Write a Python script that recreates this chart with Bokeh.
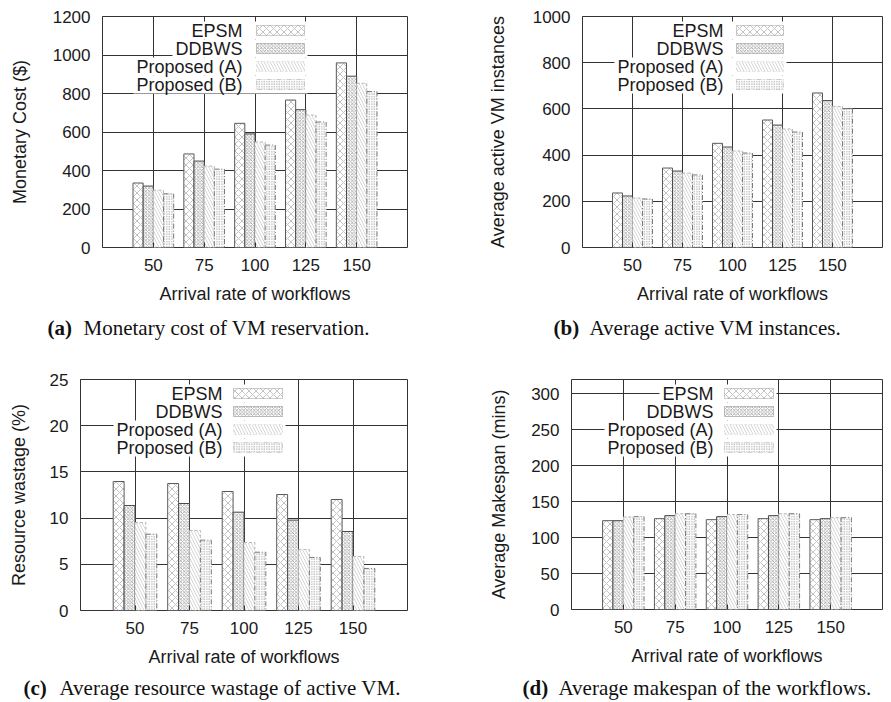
import numpy as np
from bokeh.plotting import figure
from bokeh.models import Range1d, FixedTicker, Label, BoxAnnotation, Grid
from bokeh.layouts import row, column
from bokeh.embed import file_html
from bokeh.resources import INLINE

rates = ["50", "75", "100", "125", "150"]
series = ["EPSM", "DDBWS", "Proposed (A)", "Proposed (B)"]

cost_epsm = [335, 486, 645, 766, 959]
cost_ddbws = [319, 449, 590, 716, 890]
cost_prop_a = [298, 423, 548, 688, 853]
cost_prop_b = [279, 407, 532, 652, 810]

vm_epsm = [236, 344, 451, 552, 669]
vm_ddbws = [223, 331, 435, 530, 636]
vm_prop_a = [214, 322, 418, 513, 611]
vm_prop_b = [210, 314, 409, 500, 601]

waste_epsm = [13.96, 13.74, 12.88, 12.55, 12.01]
waste_ddbws = [11.36, 11.58, 10.64, 9.78, 8.55]
waste_prop_a = [9.52, 8.66, 7.36, 6.60, 5.84]
waste_prop_b = [8.26, 7.61, 6.31, 5.74, 4.55]

mk_epsm = [123.6, 126.4, 125.0, 126.4, 125.0]
mk_ddbws = [123.6, 130.6, 129.2, 130.6, 126.4]
mk_prop_a = [128.7, 133.3, 132.0, 133.3, 127.8]
mk_prop_b = [129.2, 133.3, 132.0, 133.3, 127.8]

cost_ticks = [0, 200, 400, 600, 800, 1000, 1200]
vm_ticks = [0, 200, 400, 600, 800, 1000]
waste_ticks = [0, 5, 10, 15, 20, 25]
mk_ticks = [0, 50, 100, 150, 200, 250, 300]

captions = [
    ("(a)", "Monetary cost of VM reservation."),
    ("(b)", "Average active VM instances."),
    ("(c)", "Average resource wastage of active VM."),
    ("(d)", "Average makespan of the workflows."),
]

SANS = "Liberation Sans"
SERIF = "Liberation Serif"
TXT = "#1a1a1a"
TICK = "#333333"

STYLES = [
    dict(fill_color="white", line_color="#5a5a5a", line_width=1,
         hatch_pattern="diagonal_cross", hatch_color="#9a9a9a", hatch_scale=7, hatch_weight=0.6),
    dict(fill_color="white", line_color="#4a4a4a", line_width=1,
         hatch_pattern="diagonal_cross", hatch_color="#7a7a7a", hatch_scale=3.5, hatch_weight=0.6),
    dict(fill_color="white", line_color="#b8b8b8", line_width=1, line_dash="3 2",
         hatch_pattern="left_diagonal_line", hatch_color="#c4c4c4", hatch_scale=6, hatch_weight=0.7),
    dict(fill_color="white", line_color="#7a7a7a", line_width=1, line_dash="5 2 1 2",
         hatch_pattern="dot", hatch_color="#8c8c8c", hatch_scale=2.5, hatch_weight=0.8),
]
OFFSETS = [-0.3, -0.1, 0.1, 0.3]


def panel(values, ymax, yticks, ylabel, geom, fig, ylab_standoff, leg):
    L, T, W, H = geom
    fl, ft, fw, fh = fig
    bl = L - fl
    br = fw - bl - W
    bt = T - ft
    bb = fh - bt - H
    x0, x1, y0, y1 = 0, 6, 0, ymax

    def X(px):
        return x0 + (px - L) / W * (x1 - x0)

    def Y(py):
        return y1 - (py - T) / H * (y1 - y0)

    p = figure(x_range=Range1d(x0, x1), y_range=Range1d(y0, y1),
               frame_width=W, frame_height=H,
               min_border_left=bl, min_border_right=br,
               min_border_top=bt, min_border_bottom=bb,
               output_backend="svg", toolbar_location=None,
               background_fill_color="white", border_fill_color="white",
               outline_line_color=TICK, outline_line_width=1)

    # grid
    p.xgrid.visible = False
    p.ygrid.ticker = FixedTicker(ticks=yticks)
    p.ygrid.grid_line_color = "#c8c8c8"
    p.ygrid.grid_line_dash = "1 2"
    p.ygrid.grid_line_width = 1

    # axes
    p.xaxis.ticker = FixedTicker(ticks=[1, 2, 3, 4, 5])
    p.xaxis.major_label_overrides = {i + 1: r for i, r in enumerate(rates)}
    p.yaxis.ticker = FixedTicker(ticks=yticks)
    for ax in (p.xaxis[0], p.yaxis[0]):
        ax.axis_line_color = None
        ax.major_tick_in = 5
        ax.major_tick_out = 0
        ax.major_tick_line_color = TICK
        ax.minor_tick_line_color = None
        ax.major_label_text_font = SANS
        ax.major_label_text_font_size = "17px"
        ax.major_label_text_color = TXT
        ax.axis_label_text_font = SANS
        ax.axis_label_text_font_size = "18px"
        ax.axis_label_text_font_style = "normal"
        ax.axis_label_text_color = TXT
    p.xaxis.axis_label = "Arrival rate of workflows"
    p.xaxis.major_label_standoff = 11
    p.xaxis.axis_label_standoff = 10
    p.yaxis.axis_label = ylabel
    p.yaxis.major_label_standoff = 12
    p.yaxis.axis_label_standoff = ylab_standoff

    # mirrored tick marks on the right and top borders
    p.add_layout(Grid(dimension=1, ticker=FixedTicker(ticks=yticks), bounds=(X(L + W - 5), x1),
                      grid_line_color=TICK, grid_line_width=1), "center")
    p.add_layout(Grid(dimension=0, ticker=FixedTicker(ticks=[1, 2, 3, 4, 5]), bounds=(Y(T + 5), y1),
                      grid_line_color=TICK, grid_line_width=1), "center")

    # bars
    base = np.arange(1, 6)
    for vals, off, st in zip(values, OFFSETS, STYLES):
        p.vbar(x=base + off, top=vals, width=0.2, bottom=0, **st)

    # legend (text right-aligned, sample box on the right)
    text_right, sw_l, sw_r = leg
    rows_y = [T + 14, T + 32, T + 50, T + 68]
    widths = [51, 67, 106, 106]
    for yc, tw in zip(rows_y, widths):
        p.add_layout(BoxAnnotation(left=X(text_right - tw - 3), right=X(sw_r + 3),
                                   top=Y(yc - 9), bottom=Y(yc + 9),
                                   fill_color="white", fill_alpha=1, line_color=None,
                                   level="annotation"))
    for name, st, yc in zip(series, STYLES, rows_y):
        p.add_layout(Label(x=X(text_right), y=Y(yc), text=name, text_align="right",
                           text_baseline="middle", text_font=SANS, text_font_size="18px",
                           text_color=TXT))
        p.add_layout(BoxAnnotation(left=X(sw_l), right=X(sw_r), top=Y(yc - 5), bottom=Y(yc + 5),
                                   fill_alpha=1, **st))
    return p


def caption_fig(cap, width, height, xb, xr, mid_y):
    c = figure(x_range=Range1d(0, width), y_range=Range1d(height, 0),
               width=width, height=height, min_border=0,
               output_backend="svg", toolbar_location=None,
               outline_line_color=None, background_fill_color="white",
               border_fill_color="white")
    c.axis.visible = False
    c.grid.visible = False
    bold, rest = cap
    c.add_layout(Label(x=xb, y=mid_y, text=bold, text_align="left",
                       text_baseline="middle", text_font=SERIF, text_font_size="21px",
                       text_font_style="bold", text_color="#111111"))
    c.add_layout(Label(x=xr, y=mid_y, text=rest, text_align="left",
                       text_baseline="middle", text_font=SERIF, text_font_size="21px",
                       text_color="#111111"))
    return c


TOP_H = 313
BOT_Y = 345
BOT_END = 675
PAGE_END = 701

pa = panel([cost_epsm, cost_ddbws, cost_prop_a, cost_prop_b], 1200, cost_ticks,
           "Monetary Cost ($)", (102, 16, 305, 231), (0, 0, 445, TOP_H), 20,
           (242, 256, 304))
pb = panel([vm_epsm, vm_ddbws, vm_prop_a, vm_prop_b], 1000, vm_ticks,
           "Average active VM instances", (582, 16, 300, 231), (445, 0, 446, TOP_H), 22,
           (723, 736, 783))
pc = panel([waste_epsm, waste_ddbws, waste_prop_a, waste_prop_b], 25, waste_ticks,
           "Resource wastage (%)", (80, 378, 327, 231), (0, BOT_Y, 445, BOT_END - BOT_Y), 18,
           (222, 233, 282))
pd = panel([mk_epsm, mk_ddbws, mk_prop_a, mk_prop_b], 320, mk_ticks,
           "Average Makespan (mins)", (571, 379, 311, 230), (445, BOT_Y, 446, BOT_END - BOT_Y), 19,
           (713, 724, 773))

ca = caption_fig(captions[0], 445, BOT_Y - TOP_H, 47, 83, 327 - TOP_H)
cb = caption_fig(captions[1], 446, BOT_Y - TOP_H, 553 - 445, 589 - 445, 327 - TOP_H)
cc = caption_fig(captions[2], 445, PAGE_END - BOT_END, 23, 59, 687 - BOT_END)
cd = caption_fig(captions[3], 446, PAGE_END - BOT_END, 522 - 445, 558 - 445, 687 - BOT_END)

layout = column(row(pa, pb), row(ca, cb), row(pc, pd), row(cc, cd))
open("out.html", "w").write(file_html(layout, INLINE))
